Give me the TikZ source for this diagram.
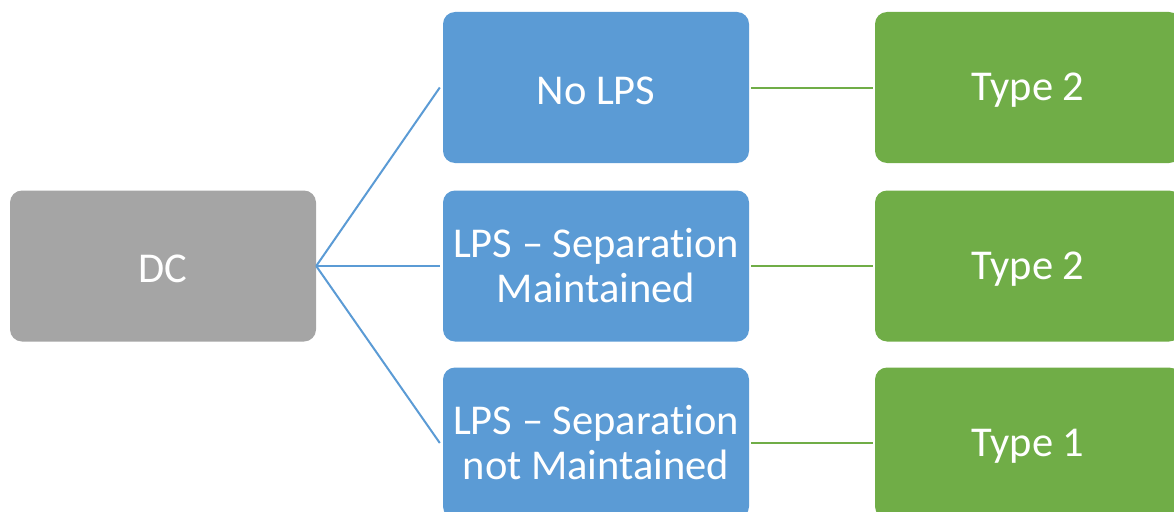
\documentclass[tikz,border=0pt]{standalone}
\usepackage{fontspec}
\setmainfont[Ligatures=NoCommon]{Carlito}
\definecolor{dcgray}{HTML}{A5A5A5}
\definecolor{lpsblue}{HTML}{5B9BD5}
\definecolor{typegreen}{HTML}{70AD47}
\newcommand{\lowertext}[1]{\raisebox{-3pt}[\height][\depth]{#1}}
\tikzset{
  box/.style={rounded corners=12pt, minimum width=306pt, minimum height=151pt,
    inner sep=0pt, text=white, align=center,
    font=\fontsize{42.5pt}{45pt}\selectfont},
  graybox/.style={box, fill=dcgray},
  bluebox/.style={box, fill=lpsblue},
  greenbox/.style={box, fill=typegreen},
  blueline/.style={draw=lpsblue, line width=2pt},
  greenline/.style={draw=typegreen, line width=2pt}
}
\begin{document}
\begin{tikzpicture}[x=1pt,y=1pt]
\useasboundingbox (0,0) rectangle (1174,-511);
\clip (0,0) rectangle (1174,-511);
\node[graybox] (dc) at (163,-266) {\lowertext{DC}};
\node[bluebox] (b1) at (596,-87.5) {\lowertext{No LPS}};
\node[bluebox] (b2) at (596,-266) {LPS -- Separation\\Maintained};
\node[bluebox] (b3) at (596,-443) {LPS -- Separation\\not Maintained};
\node[greenbox] (g1) at (1028,-87.5) {\lowertext{Type 2}};
\node[greenbox] (g2) at (1028,-266) {\lowertext{Type 2}};
\node[greenbox] (g3) at (1028,-443) {\lowertext{Type 1}};
\draw[blueline] (dc.east) -- ([xshift=-3pt]b1.west);
\draw[blueline] (dc.east) -- ([xshift=-3pt]b2.west);
\draw[blueline] (dc.east) -- ([xshift=-3pt]b3.west);
\draw[greenline] ([xshift=2pt]b1.east) -- ([xshift=-2pt]g1.west);
\draw[greenline] ([xshift=2pt]b2.east) -- ([xshift=-2pt]g2.west);
\draw[greenline] ([xshift=2pt]b3.east) -- ([xshift=-2pt]g3.west);
\end{tikzpicture}
\end{document}
